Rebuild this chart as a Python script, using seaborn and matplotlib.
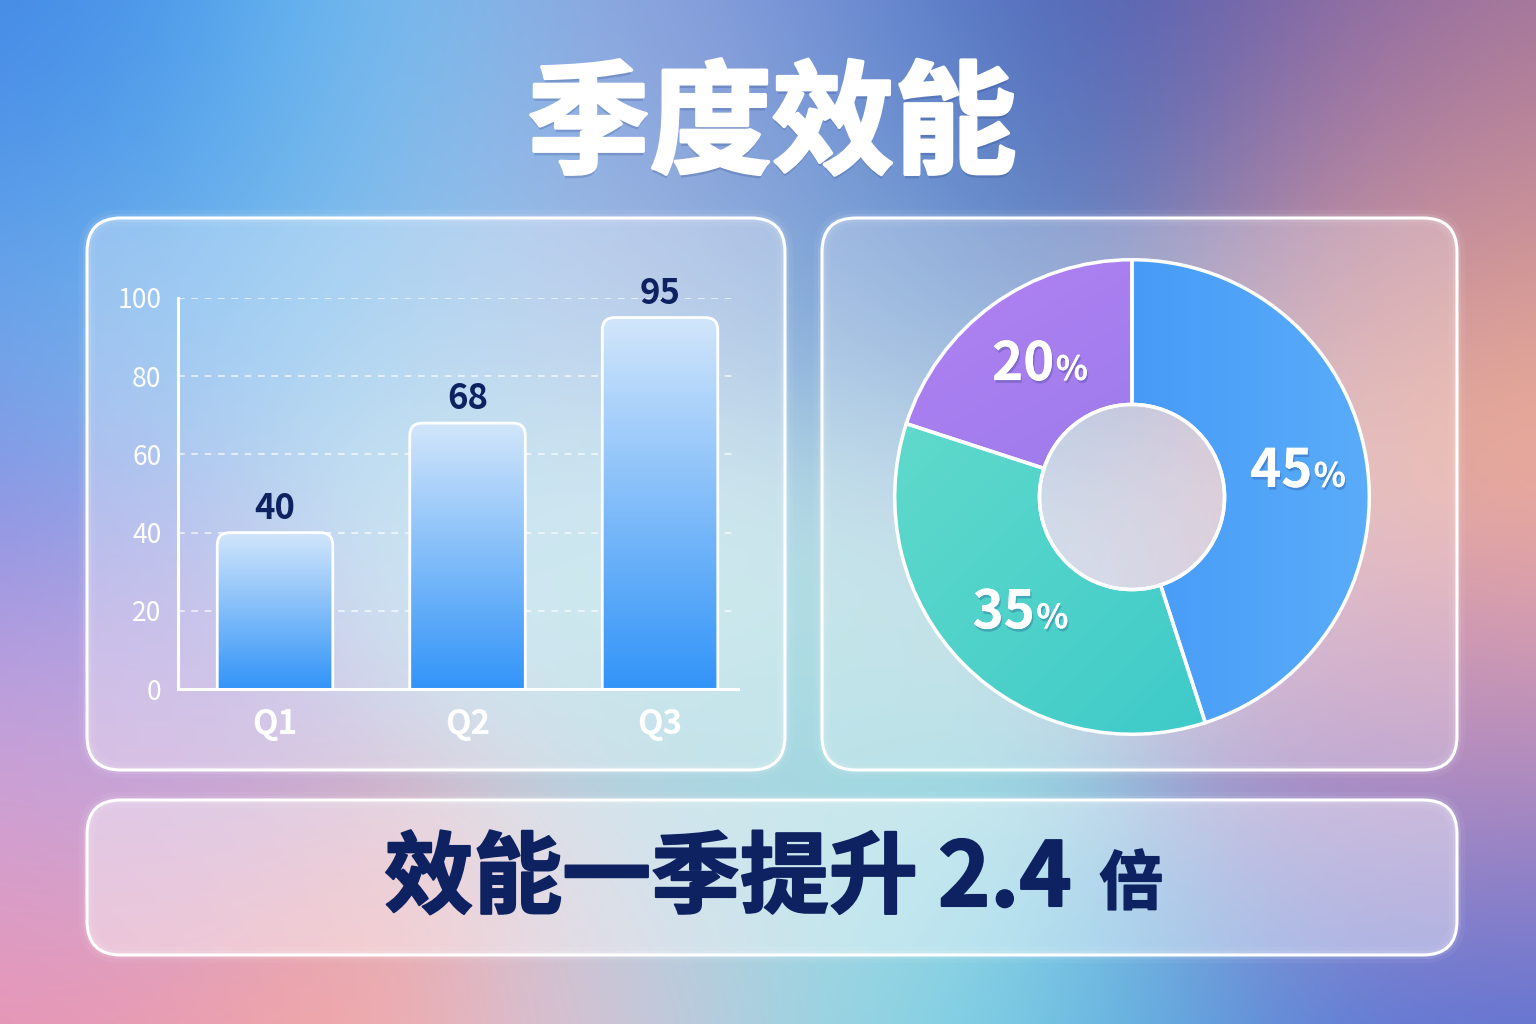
import numpy as np
import pandas as pd
import matplotlib
matplotlib.use("Agg")
import matplotlib.pyplot as plt
import matplotlib.patheffects as pe
import seaborn as sns
from matplotlib.patches import FancyBboxPatch, Circle
from matplotlib.colors import to_rgb

sns.set_style("white")
plt.rcParams['font.family'] = ['Noto Sans CJK SC', 'DejaVu Sans']

# ---------------- data ----------------
title = "季度效能"
quarters = ["Q1", "Q2", "Q3"]
scores = [40, 68, 95]
shares = [45, 35, 20]
summary_text = "效能一季提升 2.4"
summary_unit = "倍"

# ---------------- styles ----------------
W, H = 1536, 1024
navy = "#0e2262"
share_grads = [("#2f86f4", "#5eb0fa", 0),
               ("#6ee0cc", "#30c4c8", -45),
               ("#b684f4", "#8270e2", -60)]

# mesh-gradient background (anchor points in pixels, y down)
bg_anchors = [
    (0, 0, "#4686e8"), (70, 80, "#3c80e2"), (180, 130, "#46a0ee"),
    (340, 60, "#64c4f4"), (380, 200, "#78c8f2"), (470, 200, "#b8b6e0"),
    (620, 40, "#8a9edc"), (900, 30, "#6686d4"), (1100, 30, "#3856b0"),
    (1080, 190, "#4a7ec4"), (1260, 20, "#6a58a8"), (1420, 40, "#8a64a0"),
    (1520, 110, "#aa7896"), (1320, 190, "#c488a8"), (1520, 220, "#de9e8e"),
    (1525, 420, "#f8b88c"), (1525, 620, "#f2a8a0"), (1525, 760, "#c890b8"),
    (1480, 820, "#9c7ac4"), (1525, 960, "#4e6ed8"), (1430, 1015, "#4870d8"),
    (1150, 1015, "#5eb0e2"), (900, 1015, "#84dce6"), (620, 1015, "#d8c2d8"),
    (300, 1015, "#f6a6a0"), (0, 1010, "#f08ea8"), (0, 860, "#e2a0c8"),
    (20, 740, "#c4a0e2"), (0, 520, "#8886e2"), (0, 300, "#64a0e8"),
    (800, 500, "#c8e8ea"), (800, 785, "#a0d0e2"), (800, 210, "#a8b4e0"),
    (880, 260, "#5a9ad2"), (870, 730, "#a8e2e0"), (1400, 740, "#c89ac8"),
    (1420, 300, "#e4a8a4"), (150, 300, "#8ccaf0"), (150, 720, "#b4b0e6"),
    (450, 500, "#b8e0ec"), (1130, 500, "#c8c4dc"),
]

gx, gy = np.meshgrid(np.linspace(0, W, 384), np.linspace(0, H, 256))
acc = np.zeros(gx.shape + (3,))
wsum = np.zeros(gx.shape)
for ax_, ay_, c in bg_anchors:
    w = np.exp(-((gx - ax_) ** 2 + (gy - ay_) ** 2) / (2 * 150 ** 2))
    acc += w[..., None] * np.array(to_rgb(c))
    wsum += w
bg = acc / wsum[..., None]

fig = plt.figure(figsize=(W / 100, H / 100), dpi=100)
bgax = fig.add_axes([0, 0, 1, 1])
bgax.imshow(bg, extent=[0, W, H, 0], aspect='auto', interpolation='bicubic')
bgax.set_xlim(0, W)
bgax.set_ylim(H, 0)
bgax.axis('off')


def panel(x0, y0, x1, y1, alpha=0.3, r=34):
    box = f"round,pad=0,rounding_size={r}"
    for lw, a in [(12, 0.05), (6, 0.1)]:
        bgax.add_patch(FancyBboxPatch((x0, y0), x1 - x0, y1 - y0, boxstyle=box,
                                      fc='none', ec='white', lw=lw, alpha=a))
    bgax.add_patch(FancyBboxPatch((x0, y0), x1 - x0, y1 - y0, boxstyle=box,
                                  fc=(1, 1, 1, alpha), ec='white', lw=2.2))


panel(87, 218, 785, 770, 0.32)
panel(822, 218, 1457, 770, 0.26)
panel(87, 800, 1457, 955, 0.42)

# title
bgax.text(772, 128, title, ha='center', va='center', fontsize=88, fontweight='black',
          color='white',
          path_effects=[pe.withSimplePatchShadow(offset=(0, -3), shadow_rgbFace='#1a3070', alpha=0.2),
                        pe.withStroke(linewidth=2.5, foreground='white')])

# summary line
t = bgax.text(728, 880, summary_text, ha='center', va='center', fontsize=64,
              fontweight='black', color=navy,
              path_effects=[pe.withStroke(linewidth=1.5, foreground=navy)])
bgax.annotate(summary_unit, xy=(1, 0), xycoords=t, xytext=(20, 5), textcoords='offset points',
              ha='left', va='bottom', fontsize=46, fontweight='black', color=navy,
              path_effects=[pe.withStroke(linewidth=1.2, foreground=navy)])

# ---------------- bar chart ----------------
axb = fig.add_axes([178 / W, 1 - 689 / H, 560 / W, 391 / H])
axb.patch.set_alpha(0)
df_bar = pd.DataFrame({"quarter": quarters, "score": scores})
sns.barplot(data=df_bar, x="quarter", y="score", width=0.6, color="#3a98f8",
            saturation=1, ax=axb)

top_c, bot_c = np.array(to_rgb("#d2e6fb")), np.array(to_rgb("#3294f8"))
tt = np.linspace(0, 1, 256)[:, None, None]
gimg = (1 - tt) * top_c + tt * bot_c
for p in axb.patches:
    x, w, h = p.get_x(), p.get_width(), p.get_height()
    p.set_facecolor('none')
    p.set_edgecolor('none')
    clip = FancyBboxPatch((x, -8), w, h + 8, boxstyle="round,pad=0,rounding_size=0.065",
                          mutation_aspect=49.2, fc='none', ec='white', lw=2, zorder=3)
    axb.add_patch(clip)
    im = axb.imshow(gimg, extent=[x, x + w, 0, h], aspect='auto', zorder=2,
                    interpolation='bicubic')
    im.set_clip_path(clip)

for c in axb.containers:
    axb.bar_label(c, padding=5, fontsize=25, fontweight='bold', color=navy)

axb.set_xlim(-0.504, 2.405)
axb.set_ylim(0, 100)
axb.set_yticks(range(0, 101, 20))
axb.yaxis.grid(True, ls=(0, (4, 4)), color='white', alpha=0.75, lw=1.2)
axb.set_axisbelow(True)
axb.set_xlabel("")
axb.set_ylabel("")
axb.tick_params(axis='y', length=0, pad=12, labelsize=19, labelcolor='white')
axb.tick_params(axis='x', length=0, pad=14, labelsize=24, labelcolor='white')
for lb in axb.get_xticklabels():
    lb.set_fontweight('bold')
for s in ['top', 'right']:
    axb.spines[s].set_visible(False)
for s in ['left', 'bottom']:
    axb.spines[s].set_color('white')
    axb.spines[s].set_linewidth(2.2)

# ---------------- donut ----------------
axp = fig.add_axes([(1132 - 280) / W, 1 - (497 + 280) / H, 560 / W, 560 / H])
axp.patch.set_alpha(0)
wedges, _ = axp.pie(shares, startangle=90, counterclock=False, radius=1,
                    wedgeprops=dict(width=0.61, ec='white', lw=2.5, zorder=3))

yy, xx = np.mgrid[1.2:-1.2:240j, -1.2:1.2:240j]
for wdg, (c1, c2, ang) in zip(wedges, share_grads):
    d = np.cos(np.radians(ang)) * xx + np.sin(np.radians(ang)) * yy
    tg = ((d - d.min()) / (d.max() - d.min()))[..., None]
    img = (1 - tg) * np.array(to_rgb(c1)) + tg * np.array(to_rgb(c2))
    wdg.set_facecolor('none')
    im = axp.imshow(img, extent=[-1.2, 1.2, -1.2, 1.2], zorder=2, interpolation='bicubic')
    im.set_clip_path(wdg)

axp.add_patch(Circle((0, 0), 0.39, fc=(1, 1, 1, 0.18), ec='white', lw=2.5, zorder=4))

shadow = [pe.withSimplePatchShadow(offset=(1, -2), shadow_rgbFace='#1a3070', alpha=0.25), pe.Normal()]
for wdg, v in zip(wedges, shares):
    mid = np.radians((wdg.theta1 + wdg.theta2) / 2)
    px, py = 0.69 * np.cos(mid), 0.69 * np.sin(mid)
    num = axp.annotate(f"{v}", (px, py), xytext=(-9, 0), textcoords='offset points',
                       ha='center', va='center', fontsize=38, fontweight='bold',
                       color='white', zorder=5, path_effects=shadow)
    axp.annotate("%", xy=(1, 0), xycoords=num, xytext=(1, 3), textcoords='offset points',
                 ha='left', va='bottom', fontsize=24, fontweight='bold', color='white',
                 zorder=5, path_effects=shadow)

axp.set_xlim(-1.18, 1.18)
axp.set_ylim(-1.18, 1.18)
axp.axis('off')

fig.savefig("out.png", dpi=100)
